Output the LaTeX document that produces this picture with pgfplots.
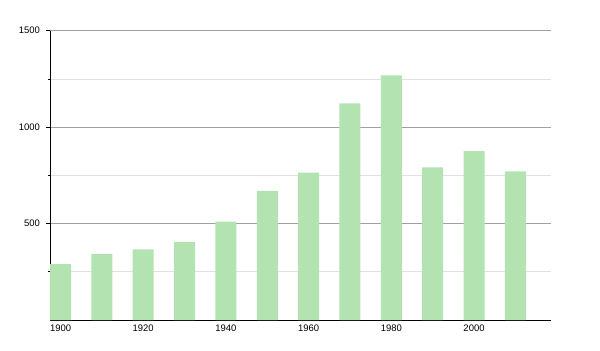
\documentclass[border=0pt]{standalone}
\usepackage{pgfplots}
\pgfplotsset{compat=1.18}
\usepackage{fontspec}
\setmainfont{Liberation Sans}
\definecolor{barg}{RGB}{178,227,176}
\definecolor{majg}{RGB}{160,160,160}
\definecolor{ming}{RGB}{225,225,225}
\begin{document}
\begin{tikzpicture}[x=1bp,y=1bp]
\path[use as bounding box] (0,0) rectangle (600,350);
\begin{axis}[
  at={(50bp,30bp)}, anchor=south west,
  scale only axis, width=500.5bp, height=289.3bp,
  xmin=1897.45, xmax=2018.5, ymin=0, ymax=1500,
  axis lines*=left,
  axis line style={black, line width=0.8pt},
  ytick={500,1000,1500}, minor ytick={250,750,1250},
  xtick={1900,1920,...,2000},
  ymajorgrids, yminorgrids,
  major grid style={majg, line width=0.6pt},
  minor grid style={ming, line width=0.6pt},
  tick align=outside,
  major tick length=4bp, minor tick length=2.5bp,
  x tick style={draw=none},
  y tick style={black, line width=0.6pt},
  tick label style={font=\fontsize{9.5}{11}\selectfont},
  xticklabel style={yshift=3bp},
  yticklabel style={xshift=-2.5bp},
  /pgf/number format/1000 sep={},
  /pgf/number format/assume math mode=true,
  ybar, bar width=21bp,
]
\addplot[fill=barg, draw=none] coordinates {
(1900,290) (1910,342) (1920,366) (1930,404) (1940,510) (1950,669)
(1960,764) (1970,1123) (1980,1268) (1990,791) (2000,876) (2010,770)
};
\end{axis}
\end{tikzpicture}
\end{document}
